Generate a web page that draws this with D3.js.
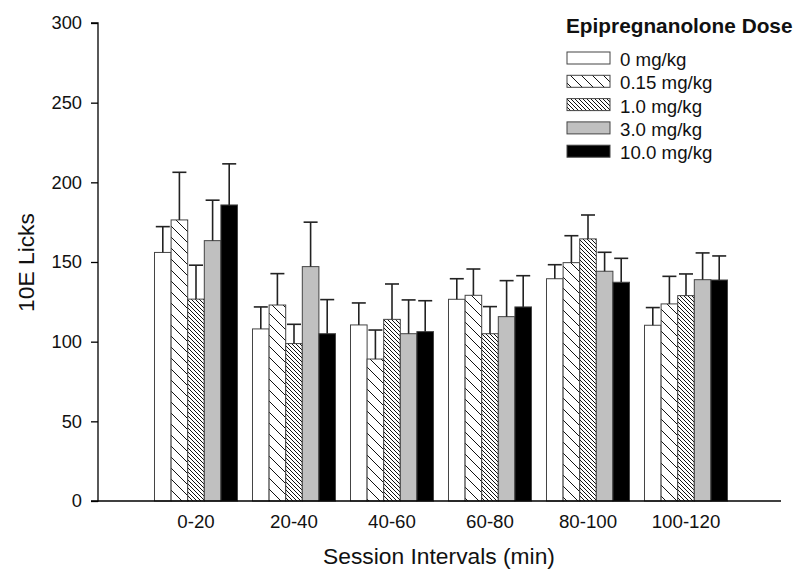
<!DOCTYPE html>
<html><head><meta charset="utf-8">
<script src="https://cdn.jsdelivr.net/npm/d3@7"></script>
<style>body{margin:0;background:#fff}svg{display:block;font-family:"Liberation Sans",Arial,sans-serif}</style>
</head><body><svg id="c" width="800" height="585"></svg>
<script>
const categories = ["0-20","20-40","40-60","60-80","80-100","100-120"];
const doses = ["0 mg/kg","0.15 mg/kg","1.0 mg/kg","3.0 mg/kg","10.0 mg/kg"];
const means0   = [156, 108, 110.5, 126.6, 139.5, 110.3];
const means015 = [176.4, 123, 89.1, 129.1, 149.6, 123.7];
const means1   = [126.7, 98.8, 114, 105, 164.5, 128.9];
const means3   = [163.4, 147.1, 105, 115.7, 144.2, 138.9];
const means10  = [185.8, 105, 106.3, 121.8, 137.3, 138.7];
const sem0   = [16.2, 13.8, 13.8, 12.9, 8.8, 11.1];
const sem015 = [29.9, 19.7, 18.2, 16.5, 16.9, 17.3];
const sem1   = [21.3, 12.1, 22.2, 17, 15, 13.6];
const sem3   = [25.4, 27.9, 21.2, 22.6, 11.9, 16.8];
const sem10  = [25.8, 21.4, 19.4, 19.6, 15, 15.1];
const yTicks = [0, 50, 100, 150, 200, 250, 300];

const meansAll = [means0, means015, means1, means3, means10];
const semAll = [sem0, sem015, sem1, sem3, sem10];
const fills = ["#ffffff", "url(#hatchWide)", "url(#hatchDense)", "#c0c0c0", "#000000"];

const svg = d3.select("#c");
const defs = svg.append("defs");
function hatch(id, s) {
  const p = defs.append("pattern").attr("id", id).attr("patternUnits", "userSpaceOnUse")
    .attr("width", s).attr("height", s);
  p.append("rect").attr("width", s).attr("height", s).attr("fill", "#fff");
  p.append("path").attr("d", `M-1,-1L${s+1},${s+1}M-1,${s-1}L1,${s+1}M${s-1},-1L${s+1},1`)
    .attr("stroke", "#111").attr("stroke-width", 1).attr("fill", "none");
}
hatch("hatchWide", 11);
hatch("hatchDense", 4);

const axisLeftX = 98, axisRightX = 781;
const y = d3.scaleLinear().domain([0, 300]).range([501, 23]);
const x0 = d3.scaleBand().domain(categories).range([147, 735]).paddingInner(0.153).paddingOuter(0.0765);
const x1 = d3.scaleBand().domain(doses).range([0, x0.bandwidth()]);

const data = [];
categories.forEach((c, i) => doses.forEach((d, j) => data.push({c, d, j, v: meansAll[j][i], e: semAll[j][i]})));

const g = svg.append("g");
g.selectAll("rect.bar").data(data).join("rect").attr("class", "bar")
  .attr("x", d => x0(d.c) + x1(d.d))
  .attr("y", d => y(d.v))
  .attr("width", x1.bandwidth())
  .attr("height", d => y(0) - y(d.v))
  .attr("fill", d => fills[d.j])
  .attr("stroke", "#444").attr("stroke-width", 1);

const capW = 14;
const eb = g.selectAll("g.eb").data(data).join("g").attr("class", "eb")
  .attr("stroke", "#222").attr("stroke-width", 1.6);
eb.append("line")
  .attr("x1", d => x0(d.c) + x1(d.d) + x1.bandwidth() / 2)
  .attr("x2", d => x0(d.c) + x1(d.d) + x1.bandwidth() / 2)
  .attr("y1", d => y(d.v)).attr("y2", d => y(d.v + d.e));
eb.append("line")
  .attr("x1", d => x0(d.c) + x1(d.d) + x1.bandwidth() / 2 - capW / 2)
  .attr("x2", d => x0(d.c) + x1(d.d) + x1.bandwidth() / 2 + capW / 2)
  .attr("y1", d => y(d.v + d.e)).attr("y2", d => y(d.v + d.e));

const ya = svg.append("g").attr("transform", `translate(${axisLeftX},0)`)
  .call(d3.axisLeft(y).tickValues(yTicks).tickSize(7).tickPadding(9).tickFormat(d3.format("d")));
ya.select(".domain").attr("stroke", "#000").attr("stroke-width", 1.3).attr("d", `M-7,${y(300)}H0V${y(0)}H-7`);
ya.selectAll(".tick line").attr("stroke", "#000").attr("stroke-width", 1.3);
ya.selectAll(".tick text").attr("font-size", 18.3).attr("fill", "#111").attr("font-family", "Liberation Sans, Arial, sans-serif");

const xa = svg.append("g").attr("transform", `translate(0,${y(0)})`)
  .call(d3.axisBottom(x0).tickSize(0).tickPadding(14));
xa.select(".domain").attr("d", `M${axisLeftX},0H${axisRightX}`).attr("stroke", "#000").attr("stroke-width", 1.3);
xa.selectAll(".tick text").attr("font-size", 18.7).attr("fill", "#111").attr("font-family", "Liberation Sans, Arial, sans-serif");

svg.append("text").attr("x", 439).attr("y", 564).attr("text-anchor", "middle")
  .attr("font-size", 22.8).attr("fill", "#111").text("Session Intervals (min)");
svg.append("text").attr("transform", "translate(34,262.5) rotate(-90)").attr("text-anchor", "middle")
  .attr("font-size", 22.8).attr("fill", "#111").text("10E Licks");

const lg = svg.append("g");
lg.append("text").attr("x", 566).attr("y", 33).attr("font-size", 20.8).attr("font-weight", "bold")
  .attr("fill", "#111").text("Epipregnanolone Dose");
doses.forEach((d, j) => {
  const yy = 52 + j * 23.3;
  lg.append("rect").attr("x", 567).attr("y", yy).attr("width", 43).attr("height", 12)
    .attr("fill", fills[j]).attr("stroke", "#444").attr("stroke-width", 1);
  lg.append("text").attr("x", 620).attr("y", yy + 14).attr("font-size", 18.7).attr("fill", "#111").text(d);
});
</script></body></html>
